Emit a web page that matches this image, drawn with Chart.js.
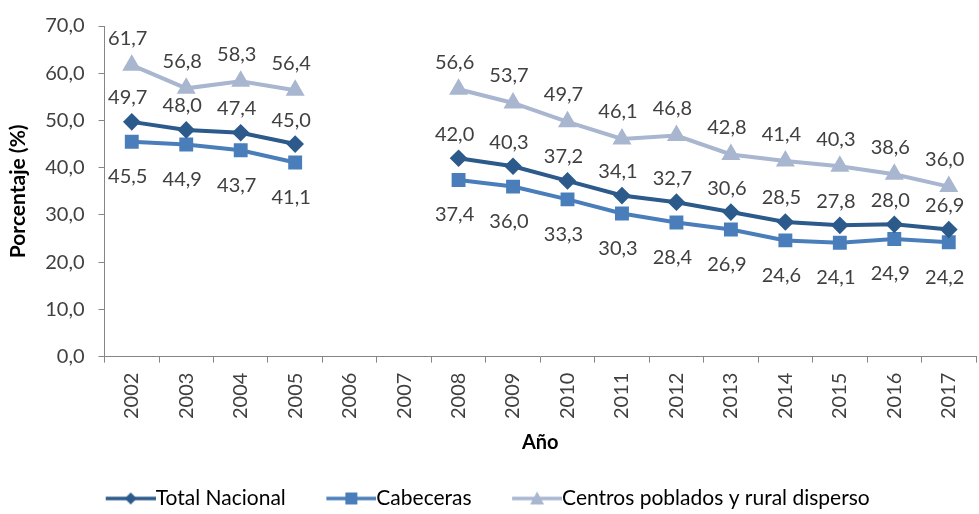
<!DOCTYPE html>
<html>
<head>
<meta charset="utf-8">
<script src="https://cdn.jsdelivr.net/npm/chart.js@4/dist/chart.umd.min.js"></script>
<style>
  html, body { margin: 0; padding: 0; background: #fff; overflow: hidden; }
  /* the original plot runs a few px past the right edge of the picture */
  #wrap { width: 987px; height: 514px; }
</style>
</head>
<body>
<div id="wrap"><canvas id="chart"></canvas></div>
<script>
const years = ['2002','2003','2004','2005','2006','2007','2008','2009','2010','2011','2012','2013','2014','2015','2016','2017'];
const totalNacional = [49.7, 48.0, 47.4, 45.0, null, null, 42.0, 40.3, 37.2, 34.1, 32.7, 30.6, 28.5, 27.8, 28.0, 26.9];
const cabeceras = [45.5, 44.9, 43.7, 41.1, null, null, 37.4, 36.0, 33.3, 30.3, 28.4, 26.9, 24.6, 24.1, 24.9, 24.2];
const centrosPoblados = [61.7, 56.8, 58.3, 56.4, null, null, 56.6, 53.7, 49.7, 46.1, 46.8, 42.8, 41.4, 40.3, 38.6, 36.0];

const FONT = 'Lato, "Open Sans", sans-serif';
const fmt = v => v.toFixed(1).replace('.', ',');

// legend swatch: blank lead-in (spacing between items), then line with marker
const SW = 76;
function swatch(color, style) {
  const c = document.createElement('canvas');
  c.width = SW + 21; c.height = 16;
  const g = c.getContext('2d');
  const x0 = c.width - 50, mid = c.width - 25;
  g.strokeStyle = color; g.fillStyle = color; g.lineWidth = 3.5;
  g.beginPath(); g.moveTo(x0, 8); g.lineTo(c.width, 8); g.stroke();
  g.beginPath();
  if (style === 'rectRot') { g.moveTo(mid, 2); g.lineTo(mid + 6, 8); g.lineTo(mid, 14); g.lineTo(mid - 6, 8); }
  else if (style === 'rect') { g.rect(mid - 6, 2, 12, 12); }
  else { g.moveTo(mid, 1); g.lineTo(mid + 7, 14); g.lineTo(mid - 7, 14); }
  g.closePath(); g.fill();
  return c;
}

const labelPlugin = {
  id: 'valueLabels',
  afterLayout(chart) {
    // nudge legend row left so it sits where the original one does
    chart.legend.left -= 27;
    chart.legend.right -= 27;
  },
  afterDatasetsDraw(chart) {
    const ctx = chart.ctx;
    ctx.save();
    ctx.font = '20px ' + FONT;
    ctx.fillStyle = '#404040';
    ctx.textAlign = 'center';
    ctx.textBaseline = 'middle';
    chart.data.datasets.forEach((ds, i) => {
      const meta = chart.getDatasetMeta(i);
      meta.data.forEach((pt, j) => {
        const v = ds.data[j];
        if (v === null) return;
        ctx.fillText(fmt(v), pt.x - 4, pt.y + ds.labelDy);
      });
    });
    ctx.restore();
  }
};

new Chart(document.getElementById('chart'), {
  type: 'line',
  data: {
    labels: years,
    datasets: [
      {
        label: 'Total Nacional',
        data: totalNacional,
        borderColor: '#2B5A8B',
        backgroundColor: '#2B5A8B',
        borderWidth: 4,
        pointStyle: 'rectRot',
        pointRadius: 6,
        labelDy: -24,
        legendImg: swatch('#2B5A8B', 'rectRot')
      },
      {
        label: 'Cabeceras',
        data: cabeceras,
        borderColor: '#4A7EBB',
        backgroundColor: '#4A7EBB',
        borderWidth: 4,
        pointStyle: 'rect',
        pointRadius: 7,
        labelDy: 35,
        legendImg: swatch('#4A7EBB', 'rect')
      },
      {
        label: 'Centros poblados y rural disperso',
        data: centrosPoblados,
        borderColor: '#A9B6D0',
        backgroundColor: '#A9B6D0',
        borderWidth: 4,
        pointStyle: 'triangle',
        pointRadius: 7,
        labelDy: -27,
        legendImg: swatch('#A9B6D0', 'triangle')
      }
    ]
  },
  options: {
    responsive: true,
    maintainAspectRatio: false,
    animation: false,
    spanGaps: false,
    layout: { padding: { top: 14, right: 0, left: 6, bottom: -5 } },
    scales: {
      x: {
        offset: true,
        grid: { offset: true, drawOnChartArea: false, tickLength: 6, color: '#868686' },
        border: { color: '#868686' },
        ticks: { color: '#404040', font: { family: FONT, size: 20 }, maxRotation: 90, minRotation: 90, padding: 10 },
        title: { display: true, text: 'Año', color: '#000', font: { family: FONT, size: 20, weight: 'bold' }, padding: { top: 2, bottom: 29 } }
      },
      y: {
        min: 0,
        max: 70,
        grid: { drawOnChartArea: false, tickLength: 6, color: '#868686' },
        border: { color: '#868686' },
        ticks: { stepSize: 10, color: '#404040', font: { family: FONT, size: 20 }, padding: 14, callback: v => fmt(v) },
        title: { display: true, text: 'Porcentaje (%)', color: '#000', font: { family: FONT, size: 21, weight: 'bold' }, padding: { top: 0, bottom: 0 } }
      }
    },
    plugins: {
      tooltip: { enabled: false },
      legend: {
        position: 'bottom',
        labels: {
          usePointStyle: true,
          pointStyleWidth: SW,
          padding: 4,
          color: '#000',
          font: { family: FONT, size: 21 },
          generateLabels(chart) {
            return chart.data.datasets.map((ds, i) => ({
              text: ds.label,
              pointStyle: ds.legendImg,
              fontColor: '#000',
              datasetIndex: i,
              hidden: false,
              lineWidth: 0
            }));
          }
        }
      }
    }
  },
  plugins: [labelPlugin]
});
</script>
</body>
</html>
